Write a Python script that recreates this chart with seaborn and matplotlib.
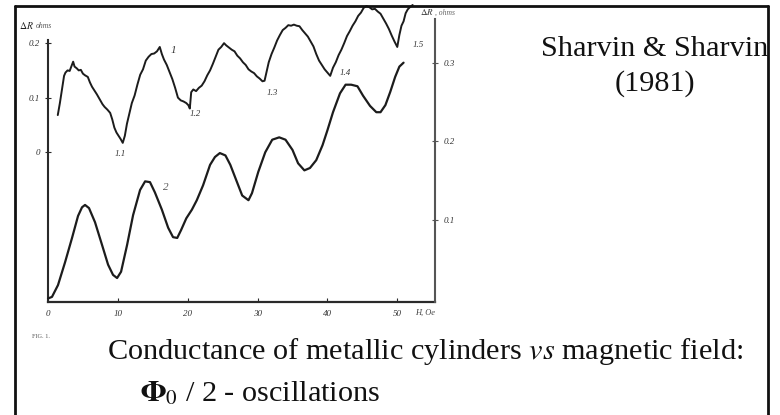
import matplotlib
matplotlib.use("Agg")
import matplotlib.pyplot as plt
from matplotlib.lines import Line2D
import seaborn as sns
import pandas as pd

# Curve 1: resistance change vs field (left scale), noisy trace
field_1 = [1.4, 1.7, 2.0, 2.3, 2.5, 2.8, 3.1, 3.3, 3.6, 3.8, 4.1, 4.4, 4.7, 5.0, 5.3,
           5.7, 6.0, 6.3, 6.6, 7.0, 7.4, 7.8, 8.1, 8.5, 8.9, 9.2, 9.5, 9.8, 10.1, 10.4,
           10.7, 11.0, 11.3, 11.6, 12.0, 12.4, 12.8, 13.2, 13.6, 14.0, 14.4, 14.8, 15.2,
           15.6, 16.0, 16.3, 16.6, 17.0, 17.4, 17.8, 18.2, 18.6, 19.0, 19.4, 19.8, 20.1,
           20.3, 20.5, 20.8, 21.2, 21.6, 22.0, 22.4, 22.8, 23.2, 23.6, 24.0, 24.4, 24.8,
           25.2, 25.5, 25.9, 26.3, 26.7, 27.1, 27.5, 27.9, 28.3, 28.7, 29.1, 29.5, 29.9,
           30.3, 30.7, 31.0, 31.3, 31.6, 32.0, 32.4, 32.8, 33.2, 33.6, 34.0, 34.4, 34.8,
           35.2, 35.6, 36.0, 36.4, 36.8, 37.2, 37.6, 38.0, 38.4, 38.8, 39.2, 39.6, 40.0,
           40.4, 40.8, 41.2, 41.6, 42.0, 42.4, 42.8, 43.2, 43.6, 44.0, 44.4, 44.8, 45.2,
           45.6, 46.0, 46.4, 46.8, 47.2, 47.6, 48.0, 48.4, 48.8, 49.2, 49.6, 50.0, 50.3,
           50.6, 50.9, 51.2, 51.5, 51.8, 52.2]
dr_1 = [0.068, 0.090, 0.115, 0.140, 0.146, 0.150, 0.149, 0.156, 0.166, 0.157, 0.154,
        0.150, 0.151, 0.144, 0.141, 0.138, 0.128, 0.120, 0.114, 0.106, 0.097, 0.088,
        0.083, 0.078, 0.072, 0.060, 0.045, 0.036, 0.030, 0.024, 0.017, 0.030, 0.052,
        0.068, 0.090, 0.104, 0.124, 0.142, 0.152, 0.168, 0.175, 0.180, 0.181, 0.185,
        0.193, 0.180, 0.170, 0.160, 0.147, 0.134, 0.118, 0.100, 0.095, 0.093, 0.090,
        0.086, 0.080, 0.110, 0.115, 0.112, 0.118, 0.122, 0.130, 0.141, 0.150, 0.162,
        0.175, 0.188, 0.193, 0.200, 0.196, 0.192, 0.188, 0.185, 0.177, 0.172, 0.165,
        0.160, 0.152, 0.148, 0.145, 0.139, 0.135, 0.130, 0.131, 0.148, 0.165, 0.180,
        0.192, 0.205, 0.215, 0.224, 0.228, 0.233, 0.232, 0.234, 0.232, 0.231, 0.224,
        0.218, 0.212, 0.203, 0.194, 0.180, 0.168, 0.160, 0.152, 0.146, 0.140, 0.155,
        0.165, 0.178, 0.188, 0.200, 0.213, 0.222, 0.232, 0.240, 0.250, 0.256, 0.265,
        0.268, 0.266, 0.262, 0.263, 0.258, 0.254, 0.245, 0.236, 0.226, 0.214, 0.203,
        0.193, 0.215, 0.232, 0.240, 0.255, 0.262, 0.266, 0.270]

# Curve 2: smooth trace (right scale)
field_2 = [0.0, 0.57, 1.43, 2.44, 3.44, 4.3, 4.87, 5.3, 5.87, 6.73, 7.74, 8.6, 9.31, 9.89,
           10.46, 11.32, 12.18, 13.18, 13.9, 14.6, 15.3, 16.3, 17.2, 17.9, 18.5, 19.05,
           19.8, 20.6, 21.3, 22.2, 23.2, 23.9, 24.6, 25.4, 26.1, 27.1, 27.8, 28.7, 29.2,
           30.1, 31.1, 32.1, 33.1, 34.0, 35.0, 35.8, 36.7, 37.5, 38.4, 39.3, 40.0, 40.8,
           41.8, 42.6, 43.4, 44.3, 45.1, 46.1, 47.0, 47.6, 48.3, 49.0, 49.7, 50.3, 50.9]
dr_2 = [0.0, 0.002, 0.017, 0.046, 0.077, 0.105, 0.116, 0.119, 0.115, 0.097, 0.068, 0.043,
        0.030, 0.026, 0.034, 0.068, 0.106, 0.138, 0.149, 0.148, 0.135, 0.113, 0.090,
        0.078, 0.077, 0.087, 0.102, 0.113, 0.125, 0.144, 0.170, 0.180, 0.185, 0.182,
        0.170, 0.147, 0.131, 0.125, 0.134, 0.161, 0.186, 0.202, 0.205, 0.202, 0.189,
        0.172, 0.163, 0.166, 0.176, 0.195, 0.214, 0.237, 0.261, 0.272, 0.272, 0.270,
        0.258, 0.245, 0.237, 0.237, 0.246, 0.263, 0.282, 0.295, 0.300]

x_ticks = [0, 10, 20, 30, 40, 50]
x_tick_labels = ["0", "10", "20", "30", "40", "50"]
left_ticks = [0, 0.1, 0.2]
left_tick_labels = ["0", "0.1", "0.2"]
right_ticks = [0.1, 0.2, 0.3]
right_tick_labels = ["0.1", "0.2", "0.3"]

# annotations along curve 1 (field, value)
curve1_marks = ["1.1", "1.2", "1.3", "1.4", "1.5"]
curve1_mark_x = [10.4, 21.1, 32.1, 42.6, 53.0]
curve1_mark_y = [-0.004, 0.070, 0.108, 0.145, 0.196]

sns.set_theme(style="white")
plt.rcParams["font.family"] = ["Liberation Serif", "DejaVu Serif"]
plt.rcParams["mathtext.fontset"] = "stix"

fig = plt.figure(figsize=(7.8, 4.15), dpi=100)
fig.patch.set_facecolor("white")

ax = fig.add_axes([48 / 780, (415 - 302) / 415, 387 / 780, 297 / 415])
ax.set_facecolor("none")
ax2 = ax.twinx()

df1 = pd.DataFrame({"H": field_1, "dR": dr_1})
df2 = pd.DataFrame({"H": field_2, "dR": dr_2})

line_col = "#1c1c1c"
sns.lineplot(data=df1, x="H", y="dR", ax=ax, sort=False, estimator=None,
             color=line_col, linewidth=1.4)
sns.lineplot(data=df2, x="H", y="dR", ax=ax2, sort=False, estimator=None,
             color=line_col, linewidth=1.6)
for a in (ax, ax2):
    for ln in a.get_lines():
        ln.set_clip_on(False)

ax.set_xlim(0, 55.4)
ax.set_ylim(-0.275, 0.270)
ax2.set_ylim(-0.0045, 0.3734)

for a in (ax, ax2):
    a.set_xlabel("")
    a.set_ylabel("")
    a.grid(False)

spine_col = "#2a2a2a"
ax.spines["top"].set_visible(False)
ax.spines["right"].set_visible(False)
ax.spines["left"].set_color(spine_col)
ax.spines["left"].set_linewidth(1.5)
ax.spines["left"].set_bounds(-0.275, 0.205)
ax.spines["bottom"].set_color(spine_col)
ax.spines["bottom"].set_linewidth(1.6)
for s in ("top", "left", "bottom"):
    ax2.spines[s].set_visible(False)
ax2.spines["right"].set_color("#555555")
ax2.spines["right"].set_linewidth(1.5)
ax2.spines["right"].set_bounds(-0.0045, 0.355)

tick_font = dict(fontsize=6.5, fontstyle="italic", color="#333333")
ax.set_xticks(x_ticks)
ax.set_xticklabels(x_tick_labels, **tick_font)
ax.tick_params(axis="x", direction="in", length=3, width=0.8, color=spine_col, pad=6,
               bottom=True)
ax.set_yticks(left_ticks)
ax.set_yticklabels(left_tick_labels, **tick_font)
ax.tick_params(axis="y", direction="inout", length=4, width=0.8, color=spine_col, pad=4,
               left=True)
ax2.set_yticks(right_ticks)
ax2.set_yticklabels(right_tick_labels, **tick_font)
ax2.tick_params(axis="y", direction="inout", length=4, width=0.8, color="#555555", pad=4,
                right=True)

# axis captions
ax.text(52.6, -0.288, "H, Oe", ha="left", va="top", fontsize=6, fontstyle="italic",
        color="#444444")
ax.text(-2.0, 0.222, r"$\Delta R$", ha="right", va="bottom", fontsize=7,
        color="#222222", fontweight="bold", clip_on=False)
ax.text(-1.8, 0.224, "ohms", ha="left", va="bottom", fontsize=5.5, fontstyle="italic",
        color="#555555", clip_on=False)
ax2.text(53.3, 0.364, r"$\Delta R$", ha="left", va="center", fontsize=6.5,
         color="#333333", clip_on=False)
ax2.text(55.4, 0.364, ", ohms", ha="left", va="center", fontsize=5.5,
         fontstyle="italic", color="#666666", clip_on=False)

# curve labels
ax.text(17.9, 0.187, "1", fontsize=8, fontstyle="italic", color="#333333",
        ha="center", va="center")
for lab, xv, yv in zip(curve1_marks, curve1_mark_x, curve1_mark_y):
    ax.text(xv, yv, lab, fontsize=6.5, fontstyle="italic", color="#333333",
            ha="center", va="center", clip_on=False)
ax2.text(16.8, 0.141, "2", fontsize=8, fontstyle="italic", color="#555555",
         ha="center", va="center")

# figure caption and texts
fig.text(32 / 780, 1 - 336 / 415, "FIG. 1.", fontsize=4.5, color="#555555",
         ha="left", va="center")
fig.text(655 / 780, 1 - 49 / 415, "Sharvin & Sharvin", fontsize=21.8,
         color="#111111", ha="center", va="center")
fig.text(655 / 780, 1 - 84 / 415, "(1981)", fontsize=21.8, color="#111111",
         ha="center", va="center")
fig.text(107 / 780, 1 - 351 / 415, r"Conductance of metallic cylinders $vs$ magnetic field:",
         fontsize=21.8, color="#111111", ha="left", va="center")
fig.text(140 / 780, 1 - 393 / 415, r"$\mathbf{\Phi}_0$ / 2 - oscillations",
         fontsize=21.8, color="#111111", ha="left", va="center")

# outer frame
frame_kw = dict(color="#111111", linewidth=2.0, transform=fig.transFigure)
fig.add_artist(Line2D([15 / 780, 768 / 780], [1 - 6 / 415, 1 - 6 / 415], **frame_kw))
fig.add_artist(Line2D([15 / 780, 15 / 780], [1 - 6 / 415, 0], **frame_kw))
fig.add_artist(Line2D([768 / 780, 768 / 780], [1 - 6 / 415, 0], **frame_kw))

fig.savefig("out.png", dpi=100, facecolor="white")
